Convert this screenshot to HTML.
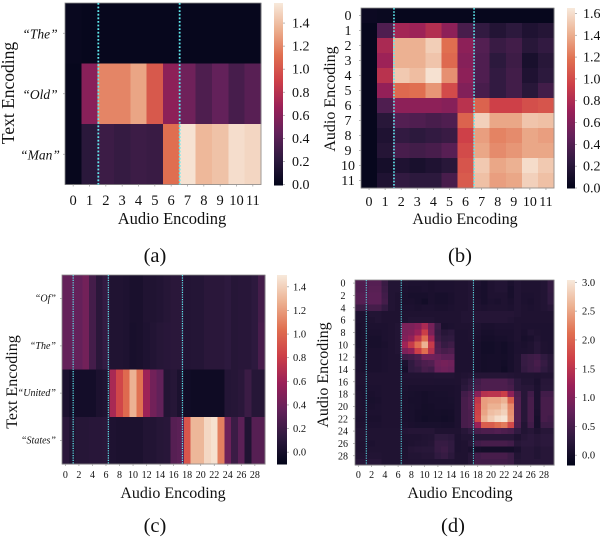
<!DOCTYPE html>
<html>
<head>
<meta charset="utf-8">
<title>Attention heatmaps</title>
<style>
html,body{margin:0;padding:0;background:#fff;width:600px;height:538px;overflow:hidden}
svg{display:block;filter:blur(.35px)}
text{font-family:"Liberation Serif",serif;fill:#111}
</style>
</head>
<body>
<svg id="figure" width="600" height="538" viewBox="0 0 600 538" xmlns="http://www.w3.org/2000/svg">
  <g id="panel-a"></g>
  <g id="panel-b"></g>
  <g id="panel-c"></g>
  <g id="panel-d"></g>

  <text x="172" y="224" font-size="16.500" text-anchor="middle">Audio Encoding</text>
  <text transform="translate(14 93) rotate(-90)" font-size="17.500" text-anchor="middle">Text Encoding</text>
  <text x="155" y="262" font-size="20.500" text-anchor="middle">(a)</text>

  <text x="465" y="224" font-size="16" text-anchor="middle">Audio Encoding</text>
  <text transform="translate(335 99) rotate(-90)" font-size="16" text-anchor="middle">Audio Encoding</text>
  <text x="460" y="262" font-size="20.500" text-anchor="middle">(b)</text>

  <text x="173" y="498" font-size="16" text-anchor="middle">Audio Encoding</text>
  <text transform="translate(17 382) rotate(-90)" font-size="16" text-anchor="middle">Text Encoding</text>
  <text x="155" y="532" font-size="20.500" text-anchor="middle">(c)</text>

  <text x="460" y="498" font-size="16" text-anchor="middle">Audio Encoding</text>
  <text transform="translate(328 375) rotate(-90)" font-size="16" text-anchor="middle">Audio Encoding</text>
  <text x="453" y="532" font-size="20.500" text-anchor="middle">(d)</text>
</svg>
<script>
/* ---------- Panel (a) data ---------- */
const aColumns = [0,1,2,3,4,5,6,7,8,9,10,11];
const aRowLabels = ["\u201CThe\u201D","\u201COld\u201D","\u201CMan\u201D"];
const aXTicks = [0,1,2,3,4,5,6,7,8,9,10,11];
const aValues = [
  [.03,.02,.02,.02,.02,.02,.02,.02,.02,.02,.02,.02],
  [.02,.60,1.20,1.20,1.31,1.02,.62,.50,.36,.45,.33,.40],
  [.02,.20,.28,.25,.28,.27,1.12,1.55,1.38,1.42,1.53,1.50]
];
const aBoundaries = [2.04,7.02];
const aRange = [0,1.574];
const aBarTicks = [0,.2,.4,.6,.8,1,1.2,1.4];

/* ---------- Panel (b) data ---------- */
const bColumns = [0,1,2,3,4,5,6,7,8,9,10,11];
const bRowLabels = ["0","1","2","3","4","5","6","7","8","9","10","11"];
const bXTicks = [0,1,2,3,4,5,6,7,8,9,10,11];
const bValues = [
  [.05,.04,.02,.02,.02,.02,.02,.02,.02,.02,.02,.02],
  [.02,.38,.75,.72,.82,.65,.35,.25,.17,.22,.15,.18],
  [.02,.78,1.42,1.42,1.54,1.18,.65,.40,.28,.32,.20,.25],
  [.02,.72,1.42,1.42,1.50,1.15,.62,.38,.22,.30,.12,.20],
  [.02,.85,1.52,1.47,1.62,1.30,.65,.38,.25,.32,.15,.22],
  [.02,.68,1.15,1.18,1.32,1.00,.60,.35,.25,.32,.20,.32],
  [.02,.38,.65,.65,.65,.62,.85,1.12,.95,.95,1.02,1.05],
  [.02,.20,.40,.38,.35,.38,1.12,1.55,1.38,1.38,1.50,1.48],
  [.02,.15,.25,.22,.25,.28,.95,1.35,1.25,1.28,1.38,1.35],
  [.02,.18,.35,.32,.35,.42,1.00,1.38,1.28,1.32,1.38,1.38],
  [.02,.10,.15,.12,.15,.20,1.05,1.52,1.38,1.42,1.60,1.52],
  [.02,.15,.25,.22,.22,.35,1.08,1.48,1.35,1.38,1.55,1.48]
];
const bBoundaries = [2.05,7.03];
const bRange = [0,1.65];
const bBarTicks = [0,.2,.4,.6,.8,1,1.2,1.4,1.6];

/* ---------- Panel (c) data ---------- */
const cColumns = [0,1,2,3,4,5,6,7,8,9,10,11,12,13,14,15,16,17,18,19,20,21,22,23,24,25,26,27,28,29];
const cRowLabels = ["\u201COf\u201D","\u201CThe\u201D","\u201CUnited\u201D","\u201CStates\u201D"];
const cXTicks = [0,2,4,6,8,10,12,14,16,18,20,22,24,26,28];
const cValues = [
  [.36,.36,.36,.42,.22,.10,.15,.05,.05,.04,.02,.02,.05,.05,.06,.08,.10,.10,.06,.07,.07,.10,.10,.10,.12,.08,.09,.09,.12,.22],
  [.36,.36,.36,.42,.22,.10,.15,.05,.05,.04,.01,.02,.04,.06,.08,.09,.10,.10,.06,.07,.07,.10,.10,.10,.12,.08,.09,.09,.12,.24],
  [.03,-.01,-.01,-.01,-.01,.03,.05,.65,.85,1.02,1.28,1.05,.60,.42,.35,.06,.08,.03,-.02,-.04,-.04,-.04,-.04,-.04,.07,.08,.10,.18,.08,.08],
  [.10,.05,.08,.08,.09,.09,.10,.04,.03,.03,.03,.03,.06,.06,.08,.09,.30,.32,.92,1.30,1.30,1.43,1.47,1.10,.40,.18,.32,.05,.30,.30]
];
const cBoundaries = [1.65,6.85,17.8];
const cRange = [-.1,1.5];
const cBarTicks = [0,.2,.4,.6,.8,1,1.2,1.4];

/* ---------- Panel (d) data ---------- */
const dColumns = [0,1,2,3,4,5,6,7,8,9,10,11,12,13,14,15,16,17,18,19,20,21,22,23,24,25,26,27,28,29];
const dRowLabels = ["0","","2","","4","","6","","8","","10","","12","","14","","16","","18","","20","","22","","24","","26","","28",""];
const dXTicks = [0,2,4,6,8,10,12,14,16,18,20,22,24,26,28];
const dValues = [
  [.58,.58,.62,.62,.38,.15,.15,.12,.1,.1,.1,.08,.1,.1,.1,.12,.12,.15,.1,.05,.12,.15,.15,.08,.15,.12,.12,.12,.15,.32],
  [.58,.58,.65,.65,.4,.15,.15,.1,.08,.08,.1,.08,.1,.1,.1,.12,.12,.15,.08,.05,.12,.15,.15,.05,.15,.12,.12,.12,.15,.32],
  [.62,.62,.68,.68,.45,.15,.12,.08,.05,.05,.05,.08,.05,.05,.08,.12,.12,.15,.08,.05,.12,.12,.12,.05,.15,.1,.1,.12,.15,.3],
  [.62,.62,.68,.68,.47,.15,.12,.08,.08,.05,0,.08,.05,.05,.08,.12,.12,.15,.1,.05,.1,.08,.12,.08,.15,.1,.08,.12,.15,.3],
  [.4,.4,.48,.48,.32,.15,.12,.1,.1,.08,.1,.1,.08,.08,.1,.12,.12,.15,.12,.1,.12,.12,.12,.1,.15,.12,.1,.12,.15,.2],
  [.1,.1,.15,.15,.12,.12,.12,.12,.12,.12,.12,.12,.12,.12,.12,.12,.15,.15,.18,.18,.18,.18,.18,.18,.15,.12,.12,.12,.12,.12],
  [.1,.1,.12,.15,.12,.12,.12,.12,.15,.15,.15,.15,.12,.12,.12,.12,.15,.15,.18,.18,.18,.18,.18,.15,.12,.12,.12,.12,.12,.12],
  [.08,.1,.1,.1,.1,.12,.15,.95,.95,1.05,1.35,.9,.4,.08,.1,.12,.12,.12,.12,.08,.08,.1,.1,.1,.12,.1,.1,.1,.1,.1],
  [.05,.08,.08,.08,.1,.12,.15,.95,1.0,1.2,1.65,.95,.35,.2,.25,.1,.1,.12,.1,.05,.05,.08,.08,.08,.12,.08,.15,.12,.1,.1],
  [.05,.08,.05,.05,.1,.12,.15,1.0,1.15,1.55,2.1,1.25,.4,.28,.3,.1,.1,.12,.08,.03,.03,.05,.05,.08,.12,.05,.08,.15,.1,.1],
  [.05,.08,.05,.05,.08,.12,.15,1.25,1.6,2.1,2.6,1.6,.55,.35,.42,.1,.1,.1,.05,0,0,.03,0,.05,.1,.08,.12,.2,.12,.1],
  [.08,.08,.08,.08,.1,.12,.15,.95,1.1,1.65,2.1,1.45,.6,.5,.55,.1,.1,.1,.05,0,0,.03,0,.05,.1,.1,.12,.2,.12,.1],
  [.1,.08,.08,.08,.1,.12,.12,.4,.45,.55,.85,.85,.8,.7,.7,.1,.1,.1,.05,.02,.03,.03,.02,.05,.12,.35,.4,.45,.3,.2],
  [.1,.08,.08,.08,.1,.12,.12,.1,.3,.45,.55,.6,.85,.9,.85,.1,.1,.1,.05,.02,.03,.03,0,.05,.12,.35,.4,.5,.35,.22],
  [.1,.08,.08,.08,.1,.12,.12,.05,.3,.35,.5,.45,.8,.85,.8,.1,.1,.1,.05,.02,.03,.03,-.02,.05,.12,.32,.4,.45,.3,.2],
  [.12,.12,.12,.12,.12,.12,.12,.14,.14,.14,.14,.14,.15,.15,.15,.12,.14,.16,.18,.18,.18,.18,.18,.16,.14,.13,.13,.12,.14,.14],
  [.12,.12,.12,.12,.12,.12,.12,.12,.12,.12,.12,.12,.11,.11,.11,.12,.2,.3,.45,.55,.55,.55,.55,.45,.25,.15,.15,.08,.2,.2],
  [.1,.1,.1,.1,.12,.12,.12,.1,.08,.08,.08,.08,.08,.08,.08,.1,.25,.35,.5,.55,.55,.55,.55,.5,.25,.2,.2,.1,.22,.22],
  [.12,.1,.08,.1,.12,.12,.12,.08,.06,.05,.03,.05,.06,.06,.08,.1,.45,.55,1.05,1.45,1.5,1.5,1.65,1.1,.55,.2,.45,.1,.45,.45],
  [.12,.1,.06,.08,.12,.12,.12,.08,.05,.05,.03,.05,.05,.05,.06,.1,.5,.6,1.55,2.45,2.5,2.5,2.6,2.0,.6,.2,.5,.1,.5,.5],
  [.12,.1,.08,.1,.12,.12,.12,.08,.06,.05,.02,.03,.05,.05,.05,.1,.5,.6,1.65,2.45,2.6,2.6,2.75,2.3,.6,.2,.5,.1,.5,.5],
  [.12,.12,.1,.1,.12,.12,.12,.08,.06,.03,.02,.02,.03,.02,.03,.1,.5,.55,1.7,2.5,2.7,2.75,2.85,2.35,.6,.2,.5,.08,.5,.5],
  [.1,.1,.08,.08,.12,.12,.12,.08,.06,.03,0,.02,.02,0,.02,.1,.5,.55,1.75,2.6,2.8,2.95,3.0,2.4,.6,.2,.5,.05,.5,.45],
  [.12,.12,.1,.1,.12,.12,.12,.1,.08,.06,.06,.06,.06,.05,.05,.1,.5,.55,1.2,1.95,1.95,2.1,2.2,1.75,.55,.15,.45,.05,.4,.4],
  [.15,.15,.13,.13,.13,.13,.13,.16,.18,.18,.18,.18,.12,.12,.12,.12,.2,.3,.5,.55,.55,.6,.55,.5,.3,.15,.2,.12,.2,.2],
  [.15,.15,.13,.13,.13,.13,.13,.12,.12,.12,.14,.15,.28,.28,.25,.1,.15,.15,.2,.2,.2,.2,.2,.2,.12,.2,.25,.2,.25,.25],
  [.13,.13,.1,.13,.13,.13,.13,.1,.12,.14,.15,.18,.35,.35,.3,.1,.12,.2,.45,.5,.5,.5,.5,.45,.2,.25,.25,.2,.25,.25],
  [.13,.13,.13,.13,.13,.13,.13,.12,.18,.2,.22,.22,.35,.4,.3,.1,.12,.08,.05,.02,.02,.02,.02,.02,.08,.2,.2,.15,.2,.2],
  [.15,.15,.15,.15,.13,.13,.13,.12,.15,.15,.18,.18,.3,.35,.25,.12,.12,.2,.45,.5,.5,.5,.5,.4,.15,.2,.2,.15,.2,.2],
  [.2,.2,.2,.2,.13,.13,.13,.13,.14,.14,.14,.14,.14,.14,.14,.12,.12,.2,.45,.45,.45,.45,.45,.4,.18,.2,.2,.2,.2,.2]
];
const dBoundaries = [1.7,6.97,17.85];
const dRange = [-.17,3.04];
const dBarTicks = [0,.5,1,1.5,2,2.5,3];

/* ---------- Rocket colour map (as it appears in the reference) ---------- */
const rocketStops = ["#03051a","#2f1a3f","#63215a","#9a2058","#cd3f48","#e06f50","#ecb090","#f7e8da"];

function hexToRgb(h){
  return [parseInt(h.slice(1,3),16),parseInt(h.slice(3,5),16),parseInt(h.slice(5,7),16)];
}
function rocket(t){
  const c=Math.max(0,Math.min(1,t))*(rocketStops.length-1);
  const i=Math.min(Math.floor(c),rocketStops.length-2);
  const f=c-i;
  const p=hexToRgb(rocketStops[i]);
  const q=hexToRgb(rocketStops[i+1]);
  return "rgb("+[0,1,2].map(function(k){return Math.round(p[k]+(q[k]-p[k])*f);}).join(",")+")";
}

const SVGNS="http://www.w3.org/2000/svg";
function make(parent,tag,attrs,txt){
  const el=document.createElementNS(SVGNS,tag);
  for(const k in attrs){el.setAttribute(k,attrs[k]);}
  if(txt!==undefined){el.textContent=txt;}
  parent.appendChild(el);
  return el;
}

function drawPanel(o){
  const g=document.getElementById(o.id);
  const cols=o.columns.length;
  const rows=o.rowLabels.length;
  const xAxis=function(c){return o.left+(o.right-o.left)*c/cols;};
  const yAxis=function(r){return o.top+(o.bottom-o.top)*r/rows;};
  const norm=function(v){return (v-o.range[0])/(o.range[1]-o.range[0]);};

  /* heatmap cells */
  o.values.forEach(function(row,r){
    row.forEach(function(v,c){
      const cell=make(g,"rect",{x:xAxis(c),y:yAxis(r),width:xAxis(c+1)-xAxis(c)+.3,height:yAxis(r+1)-yAxis(r)+.3,fill:rocket(norm(v)),"shape-rendering":"crispEdges"});
      
      
    });
  });

  /* frame */
  const frame=make(g,"rect",{x:o.left,y:o.top,width:o.right-o.left,height:o.bottom-o.top,fill:"none",stroke:"#8a8a8a","stroke-width":.8});
  
  

  /* dotted separators */
  o.boundaries.forEach(function(b){
    const line=make(g,"line",{x1:xAxis(b),x2:xAxis(b),y1:o.top,y2:o.bottom,stroke:"#5fecf0","stroke-width":o.lineWidth,"stroke-dasharray":o.lineDash});
    
    
  });

  /* x ticks */
  o.xTicks.forEach(function(t){
    const x=xAxis(t+.5);
    const tick=make(g,"line",{x1:x,x2:x,y1:o.bottom,y2:o.bottom+2,stroke:"#999","stroke-width":.7});
    
    
    const label=make(g,"text",{x:x,y:o.xLabelY,"font-size":o.tickSize,"text-anchor":"middle"},String(t));
    
    
  });

  /* y ticks */
  o.rowLabels.forEach(function(t,r){
    if(t===""){return;}
    const y=yAxis(r+.5);
    const tick=make(g,"line",{x1:o.left-2,x2:o.left,y1:y,y2:y,stroke:"#999","stroke-width":.7});
    
    
    const label=make(g,"text",{x:o.yLabelX,y:y+o.yLabelShift,"font-size":o.yTickSize,"text-anchor":o.yAnchor,"font-style":o.yItalic?"italic":"normal"},t);
    
    
  });

  /* colour bar */
  const barTop=o.top;
  const barBottom=o.bottom;
  const steps=Math.round(barBottom-barTop);
  const barY=function(v){return barBottom-norm(v)*(barBottom-barTop);};
  for(let i=0;i<steps;i++){
    const strip=make(g,"rect",{x:o.barLeft,y:barTop+i,width:o.barRight-o.barLeft,height:1.3,fill:rocket(1-i/(steps-1)),"shape-rendering":"crispEdges"});
    
    
  }
  o.barTicks.forEach(function(v){
    const y=barY(v);
    const tick=make(g,"line",{x1:o.barRight,x2:o.barRight+2,y1:y,y2:y,stroke:"#999","stroke-width":.7});
    
    
    const label=make(g,"text",{x:o.barLabelX,y:y+o.barLabelShift,"font-size":o.barTickSize},v.toFixed(1));
    
    
  });
}

drawPanel({id:"panel-a",columns:aColumns,rowLabels:aRowLabels,xTicks:aXTicks,values:aValues,boundaries:aBoundaries,range:aRange,barTicks:aBarTicks,
  left:65,right:261,top:3,bottom:184.5,barLeft:274,barRight:283,lineWidth:1.8,lineDash:"1.8 1.8",
  tickSize:14.5,xLabelY:205,yLabelX:40,yAnchor:"middle",yTickSize:13.5,yItalic:true,yLabelShift:5,barLabelX:292,barTickSize:14,barLabelShift:4.5});

drawPanel({id:"panel-b",columns:bColumns,rowLabels:bRowLabels,xTicks:bXTicks,values:bValues,boundaries:bBoundaries,range:bRange,barTicks:bBarTicks,
  left:361,right:554,top:8,bottom:188,barLeft:567,barRight:575,lineWidth:1.6,lineDash:"1.6 1.6",
  tickSize:14,xLabelY:206,yLabelX:348,yAnchor:"middle",yTickSize:14,yItalic:false,yLabelShift:4.5,barLabelX:583,barTickSize:14,barLabelShift:4.5});

drawPanel({id:"panel-c",columns:cColumns,rowLabels:cRowLabels,xTicks:cXTicks,values:cValues,boundaries:cBoundaries,range:cRange,barTicks:cBarTicks,
  left:62,right:265,top:275,bottom:464,barLeft:277,barRight:287,lineWidth:1.2,lineDash:"1.2 1.2",
  tickSize:10,xLabelY:478,yLabelX:56,yAnchor:"end",yTickSize:10,yItalic:true,yLabelShift:3,barLabelX:293,barTickSize:10.5,barLabelShift:3.5});

drawPanel({id:"panel-d",columns:dColumns,rowLabels:dRowLabels,xTicks:dXTicks,values:dValues,boundaries:dBoundaries,range:dRange,barTicks:dBarTicks,
  left:355,right:554,top:280,bottom:465,barLeft:567,barRight:575,lineWidth:1,lineDash:"1.2 1.2",
  tickSize:10,xLabelY:478,yLabelX:343,yAnchor:"middle",yTickSize:10,yItalic:false,yLabelShift:3.5,barLabelX:582,barTickSize:10.5,barLabelShift:3.5});
</script>
</body>
</html>
